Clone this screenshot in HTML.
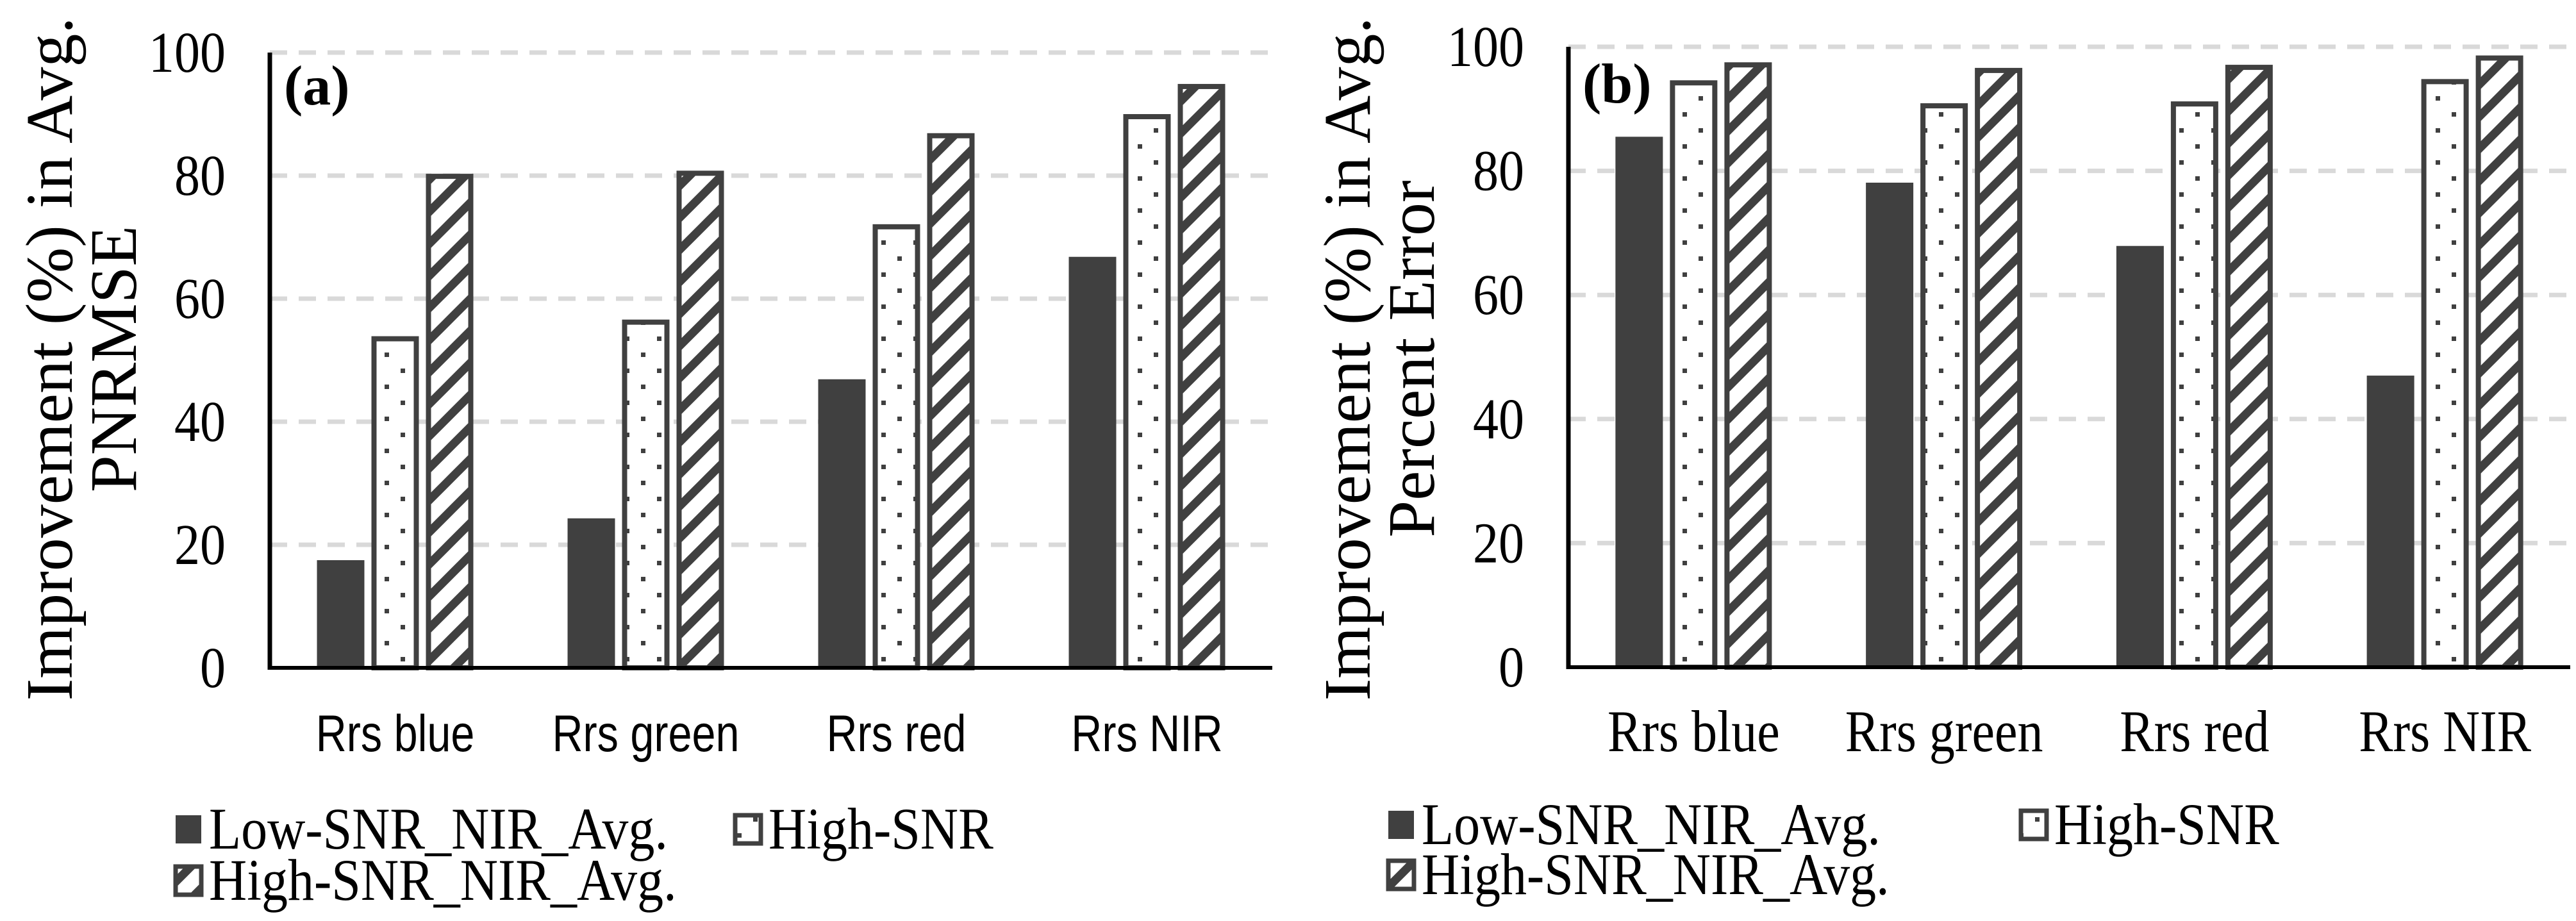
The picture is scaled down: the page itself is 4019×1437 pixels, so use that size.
<!DOCTYPE html>
<html><head><meta charset="utf-8"><style>
html,body{margin:0;padding:0;background:#fff;}
svg{display:block;}
</style></head><body>
<svg id="chart" width="4019" height="1437" viewBox="0 0 4019 1437" xmlns="http://www.w3.org/2000/svg">
<defs>
<pattern id="dots" patternUnits="userSpaceOnUse" width="50" height="50">
<rect x="0" y="0" width="7" height="7" fill="#404040"/>
<rect x="25" y="25" width="7" height="7" fill="#404040"/>
</pattern>
<pattern id="hatch" patternUnits="userSpaceOnUse" width="50" height="50">
<path d="M-5,55 L55,-5 M-30,30 L30,-30 M20,80 L80,20" stroke="#404040" stroke-width="13"/>
</pattern>
</defs>
<g id="root"></g>
</svg>
<script>
const categories = ["Rrs blue","Rrs green","Rrs red","Rrs NIR"];
const seriesNames = ["Low-SNR_NIR_Avg.","High-SNR","High-SNR_NIR_Avg."];
const aLow = [17.5, 24.3, 46.9, 66.8];
const aHigh = [53.9, 56.6, 72.1, 90.0];
const aHatch = [80.3, 80.8, 86.9, 94.9];
const bLow = [85.5, 78.1, 67.9, 47.0];
const bHigh = [94.6, 90.9, 91.2, 94.8];
const bHatch = [97.5, 96.6, 97.1, 98.6];
const yTicks = [0, 20, 40, 60, 80, 100];

const NS = "http://www.w3.org/2000/svg";
const root = document.getElementById("root");
function mk(tag, attrs, parent, text){
  const e = document.createElementNS(NS, tag);
  for (const k in attrs) e.setAttribute(k, attrs[k]);
  if (text !== undefined) e.textContent = text;
  (parent || root).appendChild(e);
  return e;
}

function drawPanel(cfg){
  const g = mk("g", {});
  
  
  const yScale = v => cfg.y0 - (v / 100) * (cfg.y0 - cfg.yTop);
  const cw = (cfg.x1 - cfg.x0) / categories.length;
  const xCenter = i => cfg.x0 + cw * (i + 0.5);
  yTicks.forEach(t => {
    if (t === 0) return;
    const l = mk("line", {x1: cfg.x0, x2: cfg.x1, y1: yScale(t), y2: yScale(t), stroke: "#d9d9d9", "stroke-width": 7, "stroke-dasharray": "27 18"}, g);
    
    
  });
  yTicks.forEach(t => {
    const tx = mk("text", {transform: "translate(" + cfg.tickX + "," + (yScale(t) + 30) + ") scale(1,1.12)", "text-anchor": "end", "font-family": "Liberation Serif, serif", "font-size": 80, fill: "#000"}, g, String(t));
    
    
  });
  const series = [cfg.low, cfg.high, cfg.hatch];
  const fills = ["#404040", "url(#dots)", "url(#hatch)"];
  const bw = cfg.bw, pitch = cfg.pitch;
  series.forEach((arr, s) => {
    arr.forEach((v, i) => {
      const cx = xCenter(i) + (s - 1) * pitch;
      const top = yScale(v);
      const r = mk("rect", {x: cx - bw / 2 + (s ? 4 : 0), y: top + (s ? 4 : 0), width: bw - (s ? 8 : 0), height: cfg.y0 - top - (s ? 4 : 0), fill: s ? "#fff" : "#404040"}, g);
      
      
      if (s) {
        const f = mk("rect", {x: cx - bw / 2 + 4, y: top + 4, width: bw - 8, height: cfg.y0 - top - 4, fill: fills[s], stroke: "#404040", "stroke-width": 8}, g);
        
        
      }
    });
  });
  const ya = mk("line", {x1: cfg.x0, x2: cfg.x0, y1: cfg.yTop, y2: cfg.y0 + 3, stroke: "#000", "stroke-width": 7}, g);
  
  
  const xa = mk("line", {x1: cfg.x0 - 3, x2: cfg.x1, y1: cfg.y0, y2: cfg.y0, stroke: "#000", "stroke-width": 6}, g);
  
  
  categories.forEach((c, i) => {
    const t = mk("text", {transform: "translate(" + xCenter(i) + "," + cfg.catY + ") scale(" + cfg.catSx + ",1.15)", "text-anchor": "middle", "font-family": cfg.catFont, "font-size": cfg.catSize, fill: "#000"}, g, c);
    
    
  });
  const pl = mk("text", {x: cfg.x0 + 22, y: cfg.letterY, "font-family": "Liberation Serif, serif", "font-size": 88, "font-weight": "bold", fill: "#000"}, g, cfg.letter);
  
  
  const yt = mk("text", {transform: "translate(" + cfg.titleX + "," + cfg.titleY + ") rotate(-90)", "text-anchor": "middle", "font-family": "Liberation Serif, serif", "font-size": 104, fill: "#000"}, g);
  
  
  mk("tspan", {x: 0, y: 0}, yt, "Improvement (%) in Avg.");
  mk("tspan", {x: 0, dy: 100}, yt, cfg.title2);
  const lg = mk("g", {}, g);
  
  
  cfg.legend.forEach((p, s) => {
    const sq = mk("rect", {x: p[0] + 4, y: p[1] - 22, width: 40, height: 44, fill: fills[s], stroke: "#404040", "stroke-width": s ? 7 : 0}, lg);
    
    
    const lt = mk("text", {transform: "translate(" + (p[0] + 56) + "," + (p[1] + 30) + ") scale(1,1.12)", "font-family": "Liberation Serif, serif", "font-size": 82, fill: "#000"}, lg, seriesNames[s]);
    
    
  });
}

drawPanel({name: "chart-a", x0: 421, x1: 1985, y0: 1042, yTop: 82, low: aLow, high: aHigh, hatch: aHatch,
  bw: 74, pitch: 85, tickX: 352, catY: 1172, catFont: "Liberation Sans, sans-serif", catSize: 70, catSx: 0.95,
  letter: "(a)", letterY: 163, titleX: 112, titleY: 560, title2: "PNRMSE",
  legend: [[270, 1294], [1143, 1294], [270, 1374]]});
drawPanel({name: "chart-b", x0: 2447, x1: 4010, y0: 1041, yTop: 73, low: bLow, high: bHigh, hatch: bHatch,
  bw: 74, pitch: 85, tickX: 2378, catY: 1172, catFont: "Liberation Serif, serif", catSize: 80, catSx: 1,
  letter: "(b)", letterY: 160, titleX: 2137, titleY: 560, title2: "Percent Error",
  legend: [[2162, 1287], [3149, 1287], [2162, 1365]]});
</script>
</body></html>
